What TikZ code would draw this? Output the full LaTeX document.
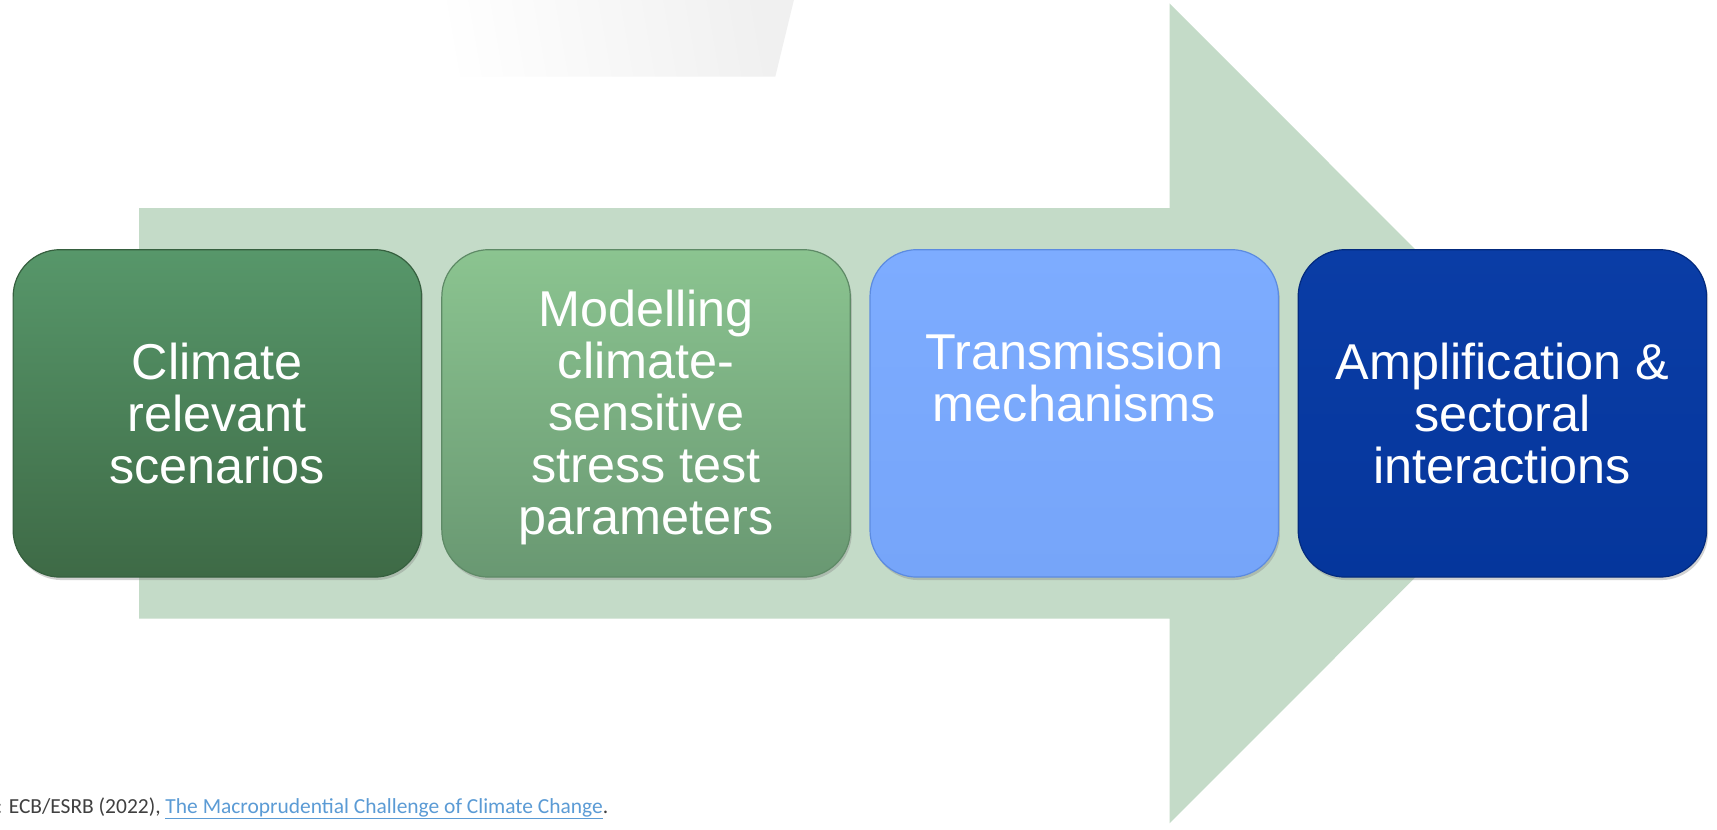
\documentclass[tikz,border=0pt]{standalone}
\usepackage{fontspec}
\setmainfont{Liberation Sans}
\newfontfamily\footfont{Carlito}
\usetikzlibrary{shadows,fadings}
\definecolor{arrowgreen}{HTML}{C4DBC8}
\definecolor{gAtop}{HTML}{57976A}
\definecolor{gAbot}{HTML}{3E6A46}
\definecolor{gAbrd}{HTML}{36603F}
\definecolor{gBtop}{HTML}{8BC490}
\definecolor{gBbot}{HTML}{699872}
\definecolor{gBbrd}{HTML}{5E8A66}
\definecolor{bCtop}{HTML}{7DACFF}
\definecolor{bCbot}{HTML}{76A5F9}
\definecolor{bCbrd}{HTML}{5C8BE0}
\definecolor{bDtop}{HTML}{0A3DA6}
\definecolor{bDbot}{HTML}{05369C}
\definecolor{bDbrd}{HTML}{032A7E}
\definecolor{foottext}{HTML}{404040}
\definecolor{linkblue}{HTML}{5B9BD5}
\tikzset{
  stagebox/.style={draw, line width=1.2pt, rounded corners=47pt, minimum width=373pt, minimum height=299pt, inner sep=0pt,
    drop shadow={opacity=0.35, shadow xshift=1.5pt, shadow yshift=-3pt}},
  stagetext/.style={text=white, align=center, font=\fontsize{46}{47.5}\selectfont, inner sep=0pt}
}
\begin{document}
\begin{tikzpicture}[x=1pt,y=-1pt,scale=1.095,every node/.append style={transform shape}]
\useasboundingbox (0,0) rectangle (1568,757.1);
\fill[white] (0,0) rectangle (1568,757.1);
% faint grey banner at the top
\shade[left color=white, right color=black!6, shading angle=100]
  (385,0) -- (725,0) -- (708,70) -- (385,70) -- cycle;
% big arrow
\fill[arrowgreen] (127,190) -- (1068,190) -- (1068,3) -- (1442,377.5) -- (1068,752) -- (1068,565) -- (127,565) -- cycle;
% boxes
\node[stagebox, top color=gAtop, bottom color=gAbot, draw=gAbrd] (b1) at (198.5,377.5) {};
\node[stagebox, top color=gBtop, bottom color=gBbot, draw=gBbrd] (b2) at (590,377.5) {};
\node[stagebox, top color=bCtop, bottom color=bCbot, draw=bCbrd] (b3) at (981,377.5) {};
\node[stagebox, top color=bDtop, bottom color=bDbot, draw=bDbrd] (b4) at (1372,377.5) {};
\node[stagetext] (t1) at (198.5,378) {Climate\\relevant\\scenarios};
\node[stagetext] (t2) at (590,381) {Modelling\\climate-\\sensitive\\stress test\\parameters};
\node[stagetext] (t3) at (981,345) {Transmission\\mechanisms};
\node[stagetext] (t4) at (1372,378) {Amplification \&\\sectoral\\interactions};
% footer
\node[anchor=base west, inner sep=0pt, font=\footfont\fontsize{19.6}{22}\selectfont, text=foottext] (src) at (-3.3,742.5)
  {: ECB/ESRB (2022), \textcolor{linkblue}{\underline{The Macroprudential Challenge of Climate Change}}.};
\end{tikzpicture}
\end{document}
